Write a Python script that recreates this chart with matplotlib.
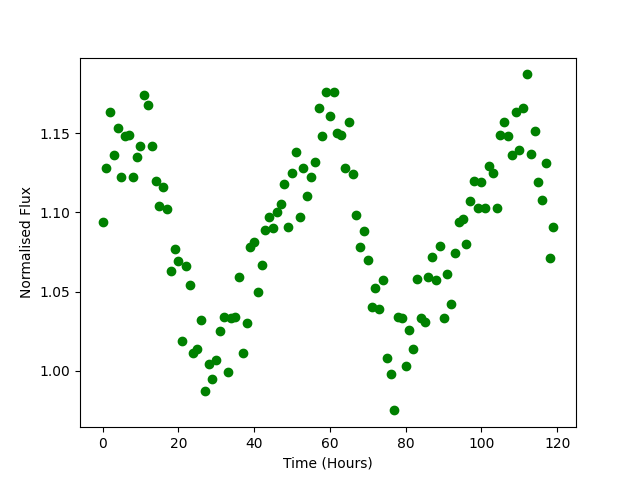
import matplotlib
matplotlib.use("Agg")
import matplotlib.pyplot as plt
import numpy as np

# time in hours and normalised flux
time = np.arange(0, 120)
flux = [
    1.094, 1.128, 1.163, 1.136, 1.153, 1.122, 1.148, 1.149, 1.122, 1.135,
    1.142, 1.174, 1.168, 1.142, 1.120, 1.104, 1.116, 1.102, 1.063, 1.077,
    1.069, 1.019, 1.066, 1.054, 1.011, 1.014, 1.032, 0.987, 1.004, 0.995,
    1.007, 1.025, 1.034, 0.999, 1.033, 1.034, 1.059, 1.011, 1.030, 1.078,
    1.081, 1.050, 1.067, 1.089, 1.097, 1.090, 1.100, 1.105, 1.118, 1.091,
    1.125, 1.138, 1.097, 1.128, 1.110, 1.122, 1.132, 1.166, 1.148, 1.176,
    1.161, 1.176, 1.150, 1.149, 1.128, 1.157, 1.124, 1.098, 1.078, 1.088,
    1.070, 1.040, 1.052, 1.039, 1.057, 1.008, 0.998, 0.975, 1.034, 1.033,
    1.003, 1.026, 1.014, 1.058, 1.033, 1.031, 1.059, 1.072, 1.057, 1.079,
    1.033, 1.061, 1.042, 1.074, 1.094, 1.096, 1.080, 1.107, 1.120, 1.103,
    1.119, 1.103, 1.129, 1.125, 1.103, 1.149, 1.157, 1.148, 1.136, 1.163,
    1.139, 1.166, 1.187, 1.137, 1.151, 1.119, 1.108, 1.131, 1.071, 1.091,
]

fig = plt.figure(figsize=(6.4, 4.8), dpi=100)
plt.plot(time, flux, 'go')
plt.xlabel("Time (Hours)")
plt.ylabel("Normalised Flux")

fig.savefig("out.png", dpi=100)
